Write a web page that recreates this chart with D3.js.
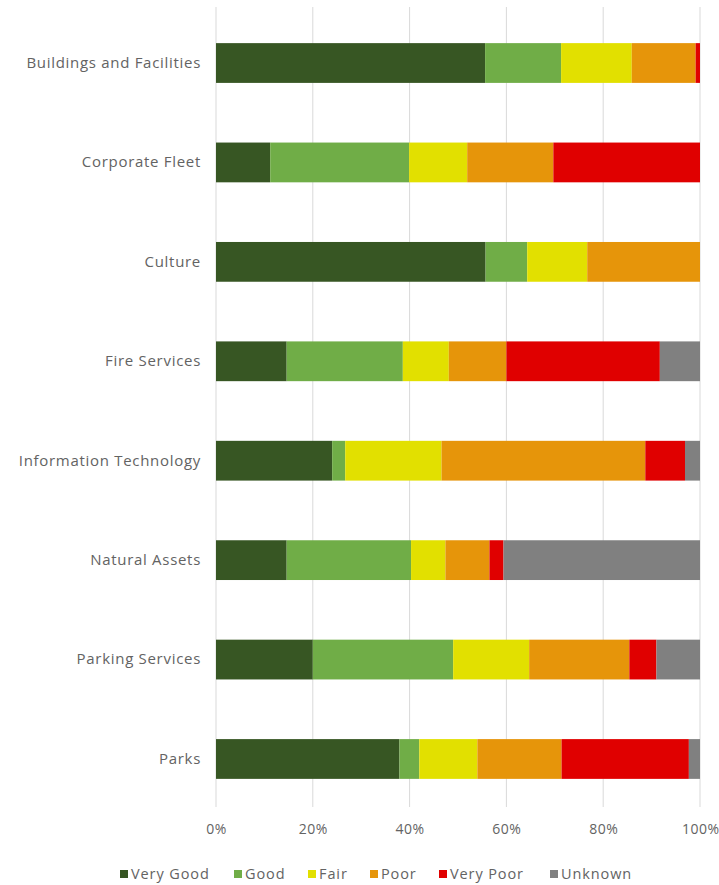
<!DOCTYPE html>
<html>
<head>
<meta charset="utf-8">
<script src="https://cdn.jsdelivr.net/npm/d3@7"></script>
<style>
  html, body { margin: 0; padding: 0; background: #ffffff; }
  svg { display: block; font-family: "Open Sans", "Noto Sans", sans-serif; }
</style>
</head>
<body>
<svg id="chart" width="719" height="885"></svg>
<script>
// Asset categories, top to bottom
const categories = [
  "Buildings and Facilities",
  "Corporate Fleet",
  "Culture",
  "Fire Services",
  "Information Technology",
  "Natural Assets",
  "Parking Services",
  "Parks"
];

// Condition rating shares (% of each category)
const veryGood = [55.6, 11.2, 55.7, 14.6, 24.0, 14.6, 20.0, 37.9];
const good     = [15.7, 28.7,  8.6, 24.0,  2.7, 25.7, 29.0,  4.1];
const fair     = [14.6, 12.0, 12.4,  9.5, 19.9,  7.1, 15.7, 12.0];
const poor     = [13.2, 17.8, 23.3, 11.9, 42.1,  9.1, 20.7, 17.4];
const veryPoor = [ 0.9, 30.3,  0.0, 31.7,  8.2,  2.9,  5.6, 26.3];
const unknown  = [ 0.0,  0.0,  0.0,  8.3,  3.1, 40.6,  9.0,  2.3];

const seriesNames = ["Very Good", "Good", "Fair", "Poor", "Very Poor", "Unknown"];
const seriesColors = ["#375623", "#70ad47", "#e2e000", "#e6950a", "#e00000", "#808080"];
const tickValues = [0, 0.2, 0.4, 0.6, 0.8, 1.0];

const seriesValues = [veryGood, good, fair, poor, veryPoor, unknown];
const keys = seriesNames;
const rows = categories.map((c, i) => {
  const r = { category: c };
  keys.forEach((k, j) => { r[k] = seriesValues[j][i]; });
  return r;
});
// normalise each row to a 100% stack
const stack = d3.stack().keys(keys).offset(d3.stackOffsetExpand);
const layers = stack(rows);

const svg = d3.select("#chart");
const x = d3.scaleLinear().domain([0, 1]).range([216, 700]);
const y = d3.scaleBand().domain(categories).range([13.3, 808.7])
  .paddingInner(0.6).paddingOuter(0.3);
const color = d3.scaleOrdinal().domain(keys).range(seriesColors);

// vertical gridlines
svg.append("g").selectAll("line").data(tickValues).join("line")
  .attr("x1", d => x(d)).attr("x2", d => x(d))
  .attr("y1", 7).attr("y2", 807)
  .attr("stroke", "#d9d9d9").attr("stroke-width", 1);

// stacked bars
svg.append("g").selectAll("g").data(layers).join("g")
  .attr("fill", d => color(d.key))
  .selectAll("rect").data(d => d).join("rect")
  .attr("x", d => x(d[0]))
  .attr("width", d => Math.max(0, x(d[1]) - x(d[0])))
  .attr("y", d => y(d.data.category))
  .attr("height", y.bandwidth());

// category labels
const yAxis = svg.append("g").attr("transform", "translate(216,0)")
  .call(d3.axisLeft(y).tickSize(0).tickPadding(15));
yAxis.select(".domain").remove();
yAxis.selectAll("text").attr("fill", "#636363").style("font-size", "15px")
  .style("letter-spacing", "0.7px")
  .style("font-family", "'Open Sans', sans-serif");

// percentage axis labels
const xAxis = svg.append("g").attr("transform", "translate(0,807)")
  .call(d3.axisBottom(x).tickValues(tickValues).tickFormat(d3.format(".0%")).tickSize(0).tickPadding(17));
xAxis.select(".domain").remove();
xAxis.selectAll("text").attr("fill", "#636363").style("font-size", "14px")
  .style("letter-spacing", "0.5px")
  .style("font-family", "'Open Sans', sans-serif");
xAxis.selectAll(".tick:last-of-type text").attr("text-anchor", "end").attr("dx", "19");

// legend
const legendX = [120, 234, 308, 370, 439, 550];
const legend = svg.append("g").selectAll("g").data(keys).join("g")
  .attr("transform", (d, i) => `translate(${legendX[i]},874)`);
legend.append("rect").attr("x", 0).attr("y", -4).attr("width", 8).attr("height", 8)
  .attr("fill", d => color(d));
legend.append("text").attr("x", 11).attr("y", 0).attr("dy", "0.35em")
  .attr("fill", "#636363").style("font-size", "14.5px").style("letter-spacing", "0.9px")
  .text(d => d);
</script>
</body>
</html>
